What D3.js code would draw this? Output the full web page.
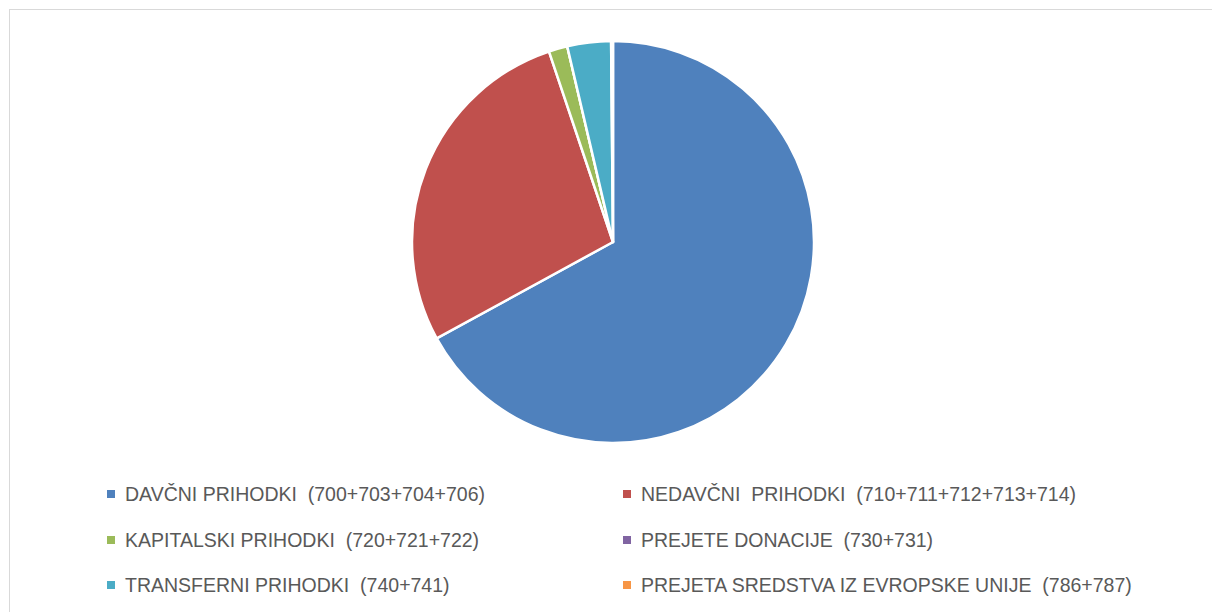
<!DOCTYPE html>
<html>
<head>
<meta charset="utf-8">
<script src="https://cdn.jsdelivr.net/npm/d3@7"></script>
<style>
  body { margin: 0; background: #fff; }
  svg { display: block; }
</style>
</head>
<body>
<div id="viz"></div>
<script>
// share of revenue by group (percent)
const categories = [
    "DAVČNI PRIHODKI  (700+703+704+706)",
    "NEDAVČNI  PRIHODKI  (710+711+712+713+714)",
    "KAPITALSKI PRIHODKI  (720+721+722)",
    "PREJETE DONACIJE  (730+731)",
    "TRANSFERNI PRIHODKI  (740+741)",
    "PREJETA SREDSTVA IZ EVROPSKE UNIJE  (786+787)"
];
const values = [66.9, 27.75, 1.5, 0.0, 3.5, 0.15];
const colors = ["#4F81BD", "#C0504D", "#9BBB59", "#8064A2", "#4BACC6", "#F79646"];

function drawChart() {
    const width = 1212, height = 612;
    let svg = d3.select("#viz")
        .append("svg")
        .attr("width", width)
        .attr("height", height);

    // chart frame
    svg.append("rect")
        .attr("x", 9.5)
        .attr("y", 9.5)
        .attr("width", 1220)
        .attr("height", 620)
        .style("fill", "none")
        .style("stroke", "#d9d9d9");

    let data = categories.map((c, i) => ({ name: c, value: values[i], color: colors[i] }));

    let pie = d3.pie().sort(null).value(d => d.value);
    let arc = d3.arc().innerRadius(0).outerRadius(201);

    let g = svg.append("g").attr("transform", "translate(613,242)");
    g.selectAll("path")
        .data(pie(data))
        .enter()
        .append("path")
        .attr("d", arc)
        .style("fill", d => d.data.color)
        .style("stroke", "#fff")
        .style("stroke-width", 2.5)
        .style("stroke-linejoin", "round");

    // legend, two columns
    let colX = [107, 623];
    let rowY = [494, 540, 585];
    let legend = svg.selectAll(".legend")
        .data(data)
        .enter()
        .append("g")
        .attr("class", "legend")
        .attr("transform", (d, i) => "translate(" + colX[i % 2] + "," + rowY[Math.floor(i / 2)] + ")");

    legend.append("rect")
        .attr("x", 0)
        .attr("y", -4)
        .attr("width", 8)
        .attr("height", 8)
        .style("fill", d => d.color);

    legend.append("text")
        .attr("x", 18)
        .attr("y", 0)
        .attr("dy", "0.35em")
        .style("font-family", "'Liberation Sans', Arial, sans-serif")
        .style("font-size", "19.5px")
        .style("fill", "#595959")
        .style("white-space", "pre")
        .text(d => d.name);
}

drawChart();
</script>
</body>
</html>
